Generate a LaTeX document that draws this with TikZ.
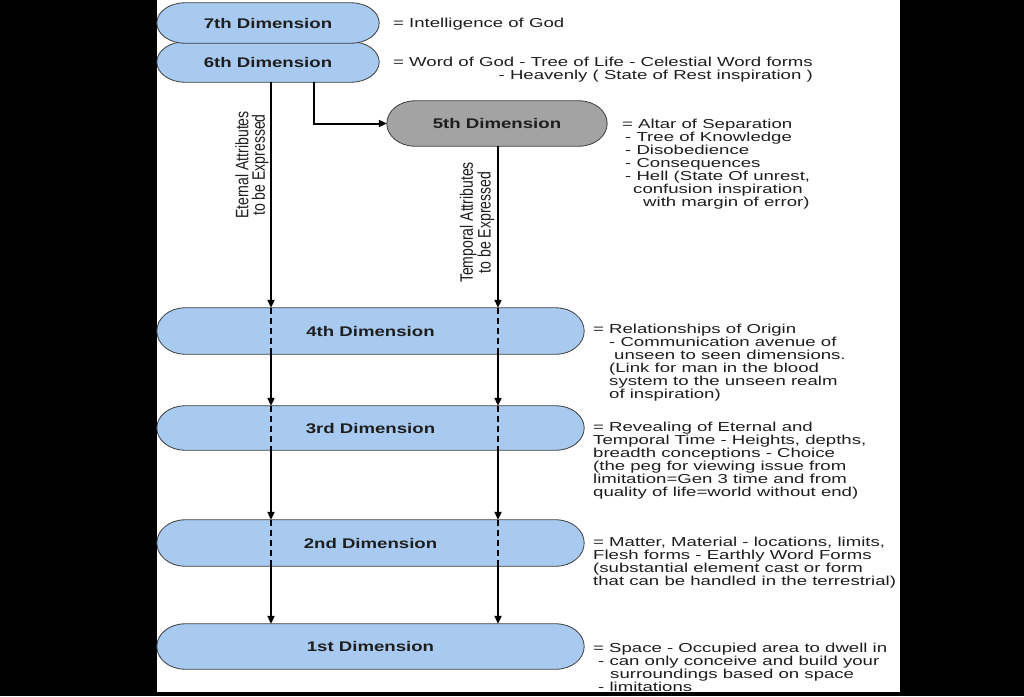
\documentclass[tikz,border=0pt]{standalone}
\usepackage{fontspec}
\usepackage{tikz}
\usetikzlibrary{positioning, arrows.meta, calc, backgrounds}
\definecolor{dimBlue}{HTML}{A8CAF0}
\definecolor{dimGray}{HTML}{A3A3A3}
\definecolor{dimEdge}{HTML}{3C3C3C}
\definecolor{dimText}{HTML}{1E1E1E}
\newfontfamily\descfont[FakeStretch=1.43]{Liberation Sans}
\newfontfamily\dimfont[FakeStretch=1.33]{Liberation Sans Bold}
\newfontfamily\rotfont[FakeStretch=0.78]{Liberation Sans}
% contorno con extremos elipticos alrededor de un nodo
\newcommand{\stadium}[2]{%
  \path[draw=dimEdge, line width=0.8pt, fill=#2]
    let \p1=(#1.north west), \p2=(#1.south east), \n1={(\y1-\y2)/2} in
    (\x1+28pt,\y1) -- (\x2-28pt,\y1)
    arc[start angle=90, end angle=-90, x radius=28pt, y radius=\n1]
    -- (\x1+28pt,\y2)
    arc[start angle=270, end angle=90, x radius=28pt, y radius=\n1] -- cycle;}

\begin{document}
\begin{tikzpicture}[x=1pt, y=1pt,
    dimbox/.style={inner sep=0pt, minimum height=40pt, text=dimText,
      font=\dimfont\fontsize{14}{14}\selectfont},
    desc/.style={anchor=north west, align=left, inner sep=0pt, text=dimText,
      font=\descfont\fontsize{13}{13}\selectfont},
    rotlabel/.style={rotate=90, align=center, inner sep=0pt, text=dimText,
      font=\rotfont\fontsize{18}{16.5}\selectfont},
    flow/.style={line width=2pt, -{Triangle[length=8pt, width=7pt]}},
    inner/.style={line width=1.7pt, dash pattern=on 6pt off 4pt}]
  \useasboundingbox (0,0) rectangle (1024,-696);
  % Dimensiones
  \node[dimbox, minimum width=222pt] (d6) at (268,-62) {6th Dimension};
  \node[dimbox, minimum width=222pt] (d7) at (268,-23) {7th Dimension};
  \node[dimbox, minimum width=220pt, minimum height=45pt] (d5) at (497,-123.5) {5th Dimension};
  \node[dimbox, minimum width=427pt, minimum height=46pt] (d4) at (370.5,-331) {4th Dimension};
  \node[dimbox, minimum width=427pt, minimum height=44pt] (d3) at (370.5,-428) {3rd Dimension};
  \node[dimbox, minimum width=427pt, minimum height=46pt] (d2) at (370.5,-543) {2nd Dimension};
  \node[dimbox, minimum width=427pt, minimum height=45pt] (d1) at (370.5,-646.5) {1st Dimension};
  % Fondo y contornos
  \begin{pgfonlayer}{background}
    \fill[black] (0,0) rectangle (1024,-696);
    \fill[white] (157,0) rectangle (900,-692);
    \stadium{d6}{dimBlue}
    \stadium{d7}{dimBlue}
    \stadium{d5}{dimGray}
    \foreach \k in {d4,d3,d2,d1} {\stadium{\k}{dimBlue}}
  \end{pgfonlayer}
  % Flechas
  \coordinate (eTop) at ($(d6.south)+(3,0)$);
  \coordinate (cTop) at ($(d6.south)+(46,0)$);
  \coordinate (tTop) at ($(d5.south)+(1,0)$);
  \draw[flow] (cTop) |- (d5.west);
  \foreach \s in {eTop,tTop} {
    \draw[flow] (\s) -- (\s |- d4.north);
    \foreach \a/\b in {d4/d3, d3/d2, d2/d1} {
      \draw[inner] (\s |- \a.north) -- (\s |- \a.south);
      \draw[flow] (\s |- \a.south) -- (\s |- \b.north);
    }
  }
  % Rotulos verticales
  \node[rotlabel] (eLab) at (252,-165) {Eternal Attributes\\to be Expressed};
  \node[rotlabel] (tLab) at (477,-222.5) {Temporal Attributes\\to be Expressed};
  % Descripciones
  \node[desc] (t7) at (393,-18) {= Intelligence of God};
  \node[desc, anchor=north east, align=right] (t6) at (813,-57)
    {= Word of God - Tree of Life - Celestial Word forms\\- Heavenly ( State of Rest inspiration )};
  \node[desc] (t5) at (622,-119) {= Altar of Separation\\\hspace*{3pt}- Tree of Knowledge\\
    \hspace*{3pt}- Disobedience\\\hspace*{3pt}- Consequences\\\hspace*{3pt}- Hell (State Of unrest,\\
    \hspace*{11pt}confusion inspiration\\\hspace*{21pt}with margin of error)};
  \node[desc] (t4) at (593,-324) {= Relationships of Origin\\\hspace*{16pt}- Communication avenue of\\
    \hspace*{21pt}unseen to seen dimensions.\\\hspace*{16pt}(Link for man in the blood\\
    \hspace*{16pt}system to the unseen realm\\\hspace*{16pt}of inspiration)};
  \node[desc] (t3) at (593,-422) {= Revealing of Eternal and\\Temporal Time - Heights, depths,\\
    breadth conceptions - Choice\\(the peg for viewing issue from\\
    limitation=Gen 3 time and from\\quality of life=world without end)};
  \node[desc] (t2) at (593,-537) {= Matter, Material - locations, limits,\\Flesh forms - Earthly Word Forms\\
    (substantial element cast or form\\that can be handled in the terrestrial)};
  \node[desc] (t1) at (593,-643) {= Space - Occupied area to dwell in\\\hspace*{5pt}- can only conceive and build your\\
    \hspace*{17pt}surroundings based on space\\\hspace*{5pt}- limitations};
\end{tikzpicture}
\end{document}
